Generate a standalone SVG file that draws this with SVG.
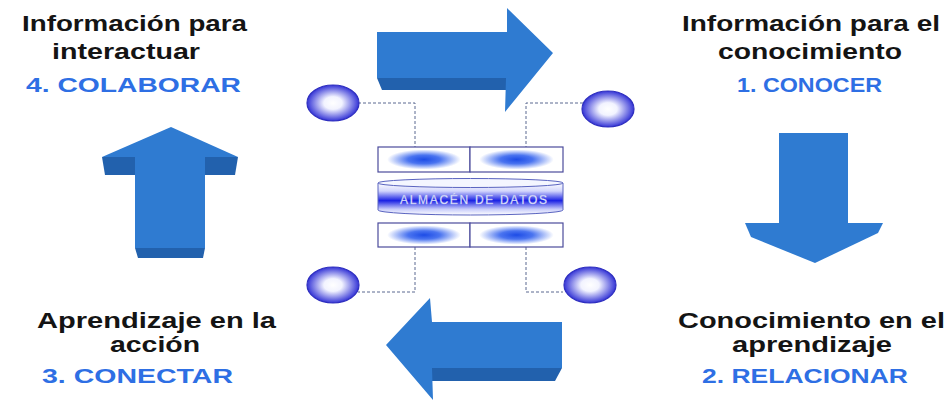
<svg xmlns="http://www.w3.org/2000/svg" width="948" height="402" viewBox="0 0 948 402">
  <style>
    .face { fill: #2f7bd1; }
    .side { fill: #2261ad; }
    .lbl { font-family: "Liberation Sans", Arial, sans-serif; font-weight: bold; font-size: 22px; fill: #141414; }
    .step { font-family: "Liberation Sans", Arial, sans-serif; font-weight: bold; font-size: 21px; fill: #2e6fe4; }
    .orb { fill: url(#orbFill); stroke: #2f2fbf; stroke-width: 1.2; }
    .cell { fill: url(#cellFill); stroke: #4b4b9c; stroke-width: 1.2; }
    .link { fill: none; stroke: #5a6890; stroke-width: 1; stroke-dasharray: 3 2; }
  </style>
  <defs>
    <radialGradient id="orbFill" cx="50%" cy="50%" r="50%">
      <stop offset="0" stop-color="#ffffff"/>
      <stop offset="0.35" stop-color="#f2f3ff"/>
      <stop offset="1" stop-color="#3434d6"/>
    </radialGradient>
    <radialGradient id="cellFill" cx="50%" cy="50%" r="50%">
      <stop offset="0" stop-color="#1d4ce6"/>
      <stop offset="0.35" stop-color="#4a74f0"/>
      <stop offset="0.8" stop-color="#ffffff"/>
      <stop offset="1" stop-color="#ffffff"/>
    </radialGradient>
    <linearGradient id="drumFill" x1="0" y1="0" x2="0" y2="1">
      <stop offset="0" stop-color="#ffffff"/>
      <stop offset="0.25" stop-color="#d3d6fc"/>
      <stop offset="0.55" stop-color="#1b22e4"/>
      <stop offset="0.82" stop-color="#c9cdfb"/>
      <stop offset="1" stop-color="#ffffff"/>
    </linearGradient>
  </defs>

  <rect width="948" height="402" fill="#ffffff"/>

  <!-- dashed links between the orbs and the data store -->
  <g id="connectors">
    <polyline class="link" points="358,103 415,103 415,147"/>
    <polyline class="link" points="583,103 526,103 526,147"/>
    <polyline class="link" points="415,247 415,292 358,292"/>
    <polyline class="link" points="526,247 526,292 563,292"/>
  </g>

  <!-- big cycle arrows -->
  <g id="arrow-right">
    <polygon class="side" points="377,78 506,78 506,90 382,90"/>
    <polygon class="face" points="377,32 507,32 507,8 553,53 505,112 506,78 377,78"/>
  </g>
  <g id="arrow-down">
    <rect class="face" x="779" y="133" width="69" height="90"/>
    <polygon class="face" points="745,223 883,223 878,233 815,263 751,237"/>
  </g>
  <g id="arrow-left">
    <polygon class="side" points="432,368 562,368 555,381 432,381"/>
    <polygon class="face" points="562,322 432,322 430,298 386,345 433,400 432,368 562,368"/>
  </g>
  <g id="arrow-up">
    <polygon class="side" points="102,157 238,157 235,175 105,175"/>
    <polygon class="side" points="135,248 205,248 203,258 138,258"/>
    <rect class="face" x="135" y="157" width="70" height="91"/>
    <polygon class="face" points="102,157 171,127 238,157"/>
  </g>

  <!-- orbs -->
  <g id="orb-top-left"><ellipse class="orb" cx="333" cy="103" rx="26" ry="18"/></g>
  <g id="orb-top-right"><ellipse class="orb" cx="608" cy="109" rx="26" ry="18"/></g>
  <g id="orb-bottom-left"><ellipse class="orb" cx="333" cy="285" rx="26" ry="18"/></g>
  <g id="orb-bottom-right"><ellipse class="orb" cx="590" cy="285" rx="26" ry="18"/></g>

  <!-- data store blocks -->
  <g id="cells-top">
    <rect class="cell" x="378" y="147" width="92" height="25"/>
    <rect class="cell" x="470" y="147" width="93" height="25"/>
  </g>
  <g id="cells-bottom">
    <rect class="cell" x="378" y="223" width="92" height="24"/>
    <rect class="cell" x="470" y="223" width="93" height="24"/>
  </g>
  <g id="data-store">
    <path d="M378,183 L378,210 A92.5,5 0 0 0 563,210 L563,183 Z" fill="url(#drumFill)" stroke="#5a64c0" stroke-width="1"/>
    <ellipse cx="470.5" cy="183" rx="92.5" ry="4.5" fill="#f4f6ff" stroke="#5a64c0" stroke-width="1"/>
    <text x="400" y="204" textLength="147" lengthAdjust="spacing" font-family="Liberation Sans, Arial, sans-serif" font-size="12" fill="#f2f4ff" stroke="#a8b0ee" stroke-width="0.3">ALMACÉN DE DATOS</text>
  </g>

  <!-- quadrant captions -->
  <g id="caption-colaborar">
    <text class="lbl" x="22" y="31" textLength="225" lengthAdjust="spacingAndGlyphs">Información para</text>
    <text class="lbl" x="52" y="59" textLength="148" lengthAdjust="spacingAndGlyphs">interactuar</text>
    <text class="step" x="26" y="92" textLength="215" lengthAdjust="spacingAndGlyphs">4. COLABORAR</text>
  </g>
  <g id="caption-conocer">
    <text class="lbl" x="682" y="31" textLength="258" lengthAdjust="spacingAndGlyphs">Información para el</text>
    <text class="lbl" x="718" y="59" textLength="184" lengthAdjust="spacingAndGlyphs">conocimiento</text>
    <text class="step" x="737" y="92" textLength="145" lengthAdjust="spacingAndGlyphs">1. CONOCER</text>
  </g>
  <g id="caption-conectar">
    <text class="lbl" x="37" y="328" textLength="239" lengthAdjust="spacingAndGlyphs">Aprendizaje en la</text>
    <text class="lbl" x="110" y="352" textLength="90" lengthAdjust="spacingAndGlyphs">acción</text>
    <text class="step" x="42" y="383" textLength="191" lengthAdjust="spacingAndGlyphs">3. CONECTAR</text>
  </g>
  <g id="caption-relacionar">
    <text class="lbl" x="678" y="328" textLength="267" lengthAdjust="spacingAndGlyphs">Conocimiento en el</text>
    <text class="lbl" x="732" y="352" textLength="160" lengthAdjust="spacingAndGlyphs">aprendizaje</text>
    <text class="step" x="702" y="383" textLength="206" lengthAdjust="spacingAndGlyphs">2. RELACIONAR</text>
  </g>
</svg>
